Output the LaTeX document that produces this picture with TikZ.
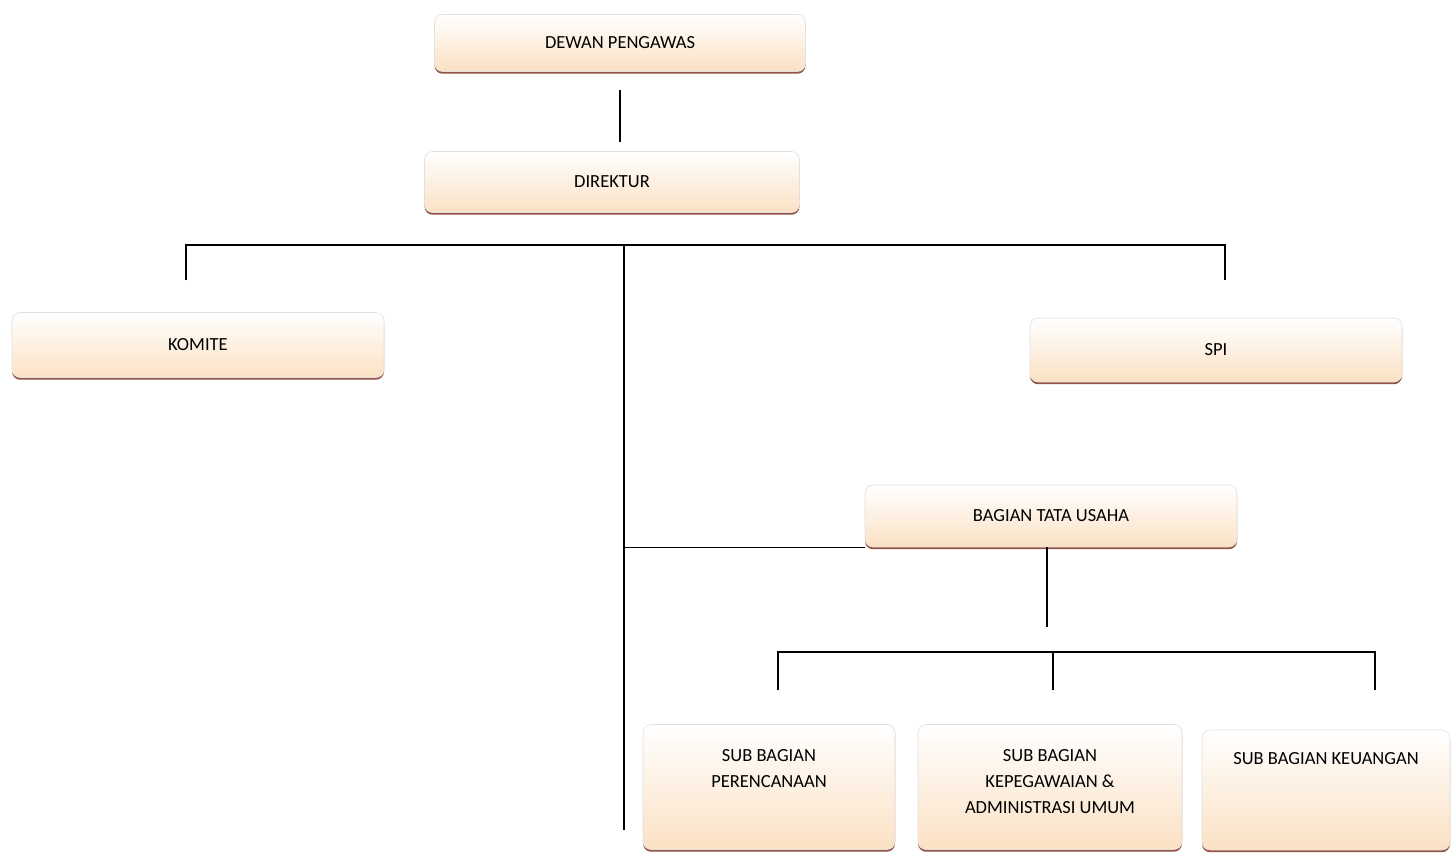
\documentclass[tikz,border=0pt]{standalone}
\usepackage{fontspec}
\setmainfont{Carlito}
\usetikzlibrary{shadows}

\definecolor{peach}{HTML}{FBE1C4}
\definecolor{rim}{HTML}{7E3322}

\tikzset{
	unit/.style={rectangle, rounded corners=8pt, draw=black!12, line width=0.6pt,
		top color=white, middle color=white, bottom color=peach, inner sep=0pt,
		drop shadow={shadow xshift=0pt, shadow yshift=-2.2pt, fill=rim, opacity=0.85},
		font=\fontsize{18.5}{26}\selectfont},
	link/.style={line width=1.2pt, black}
}
\newcommand{\toptext}[1]{\parbox[c][76pt][t]{245pt}{\centering #1}}

\begin{document}
\begin{tikzpicture}[x=1pt, y=-1pt]
		% \draw[help lines] (0,0) grid (1456,860);
		\useasboundingbox (0,0) rectangle (1456,860);

		\node[unit, minimum width=371, minimum height=57] (dewan) at (620,43) {DEWAN PENGAWAS};
		\node[unit, minimum width=375, minimum height=61] (direktur) at (612,182) {DIREKTUR};
		\node[unit, minimum width=372, minimum height=65] (komite) at (198,345) {KOMITE};
		\node[unit, minimum width=372, minimum height=64] (spi) at (1216,350) {SPI};
		\node[unit, minimum width=372, minimum height=62] (tu) at (1051,516) {BAGIAN TATA USAHA};
		\node[unit, minimum width=252, minimum height=125] (rencana) at (769,787) {\toptext{SUB BAGIAN\\PERENCANAAN}};
		\node[unit, minimum width=264, minimum height=125] (pegawai) at (1050,787) {\toptext{SUB BAGIAN\\KEPEGAWAIAN \&\\ADMINISTRASI UMUM}};
		\node[unit, minimum width=248, minimum height=120] (uang) at (1326,790) {\toptext{SUB BAGIAN KEUANGAN}};

		\coordinate (hub) at (624,245);
		\coordinate (foot) at (624,830);
		\coordinate (kt) at (186,280);
		\coordinate (st) at (1225,280);
		\coordinate (tuk) at (1047,627);
		\coordinate (bar) at (1053,652);
		\coordinate (sl) at (778,690);
		\coordinate (sm) at (1053,690);
		\coordinate (sr) at (1375,690);

		\draw[link, shorten <=18pt, shorten >=9pt] (dewan.south) -- (dewan.south |- direktur.north);
		\draw[link] (kt) |- (hub) -| (st);
		\draw[link] (hub) -- (foot);
		\draw[link] (hub |- tu.south west) -- (tu.south west);
		\draw[link] (tuk |- tu.south) -- (tuk);
		\draw[link] (sl) |- (bar) -| (sr);
		\draw[link] (bar) -- (sm);
	\end{tikzpicture}
\end{document}
